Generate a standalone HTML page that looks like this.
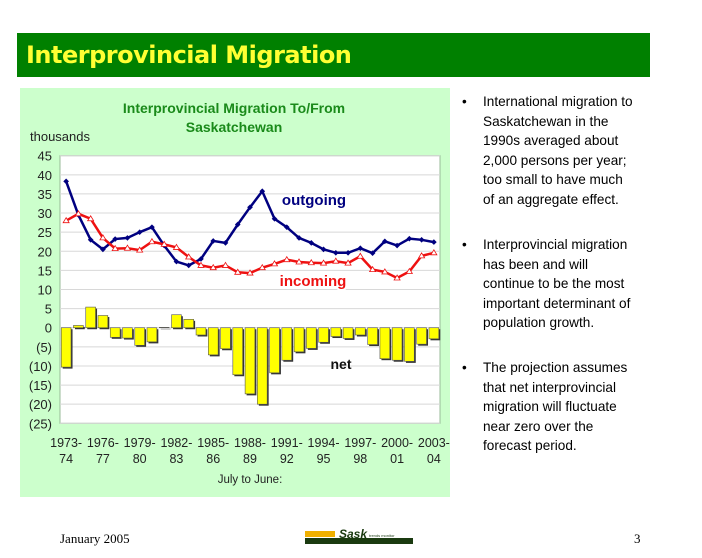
<!DOCTYPE html>
<html><head><meta charset="utf-8">
<style>
body{margin:0;width:702px;height:558px;background:#fff;position:relative;overflow:hidden;font-family:"Liberation Sans",sans-serif}
#hdr{position:absolute;left:17px;top:33px;width:633px;height:44px;background:#008000}
#hdr span{position:absolute;left:9px;top:8px;color:#ffff33;font:bold 24px "DejaVu Sans",sans-serif;letter-spacing:-0.5px}
#panel{position:absolute;left:20px;top:88px;width:430px;height:409px;background:#ccffcc}
.bul{position:absolute;left:462px;width:210px;font-size:13.6px;line-height:19.5px;color:#000}
.bul b{position:absolute;left:0;font-weight:normal}
.bul div{margin-left:21px;width:154px}
#foot{position:absolute;left:60px;top:531px;font:13px "Liberation Serif",serif}
#pg{position:absolute;left:634px;top:531px;font:13px "Liberation Serif",serif}
</style></head><body>
<div id="hdr"><span>Interprovincial Migration</span></div>
<div id="panel"></div>
<svg id="chart" width="702" height="558" style="position:absolute;left:0;top:0"></svg>
<div class="bul" style="top:92px"><b>•</b><div>International migration to Saskatchewan in the 1990s averaged about 2,000 persons per year; too small to have much of an aggregate effect.</div></div>
<div class="bul" style="top:235px"><b>•</b><div>Interprovincial migration has been and will continue to be the most important determinant of population growth.</div></div>
<div class="bul" style="top:358px"><b>•</b><div>The projection assumes that net interprovincial migration will fluctuate near zero over the forecast period.</div></div>
<div id="foot">January 2005</div>
<svg width="120" height="20" style="position:absolute;left:303px;top:527px">
<rect x="2" y="4" width="30" height="6" fill="#f0b000"/><rect x="2" y="11" width="108" height="6" fill="#1a3a10"/>
<text x="36" y="11" font-family="Liberation Sans" font-weight="bold" font-style="italic" font-size="12" fill="#1a3a10">Sask</text>
<text x="66" y="10" font-family="Liberation Sans" font-size="4" fill="#1a3a10">trends monitor</text></svg>
<div id="pg">3</div>
<script>
const years=["1973-","1976-","1979-","1982-","1985-","1988-","1991-","1994-","1997-","2000-","2003-"];
const years2=["74","77","80","83","86","89","92","95","98","01","04"];
const yTicks=[45,40,35,30,25,20,15,10,5,0,-5,-10,-15,-20,-25];
const outgoing=[38.3,29.5,23,20.5,23.2,23.5,25,26.3,21.5,17.3,16.3,18,22.7,22.2,27,31.5,35.7,28.5,26.3,23.5,22.2,20.5,19.6,19.6,20.8,19.5,22.6,21.5,23.3,23,22.4];
const incoming=[28,29.8,28.5,23.5,20.7,20.8,20.3,22.5,21.8,21,18.5,16.3,15.7,16.3,14.5,14.3,15.7,16.7,17.8,17.2,17,16.9,17.4,16.9,18.7,15.2,14.6,13,14.7,18.8,19.6];
const net=[-10.3,0.6,5.4,3.2,-2.5,-2.7,-4.6,-3.7,0.1,3.4,2.2,-1.9,-7.1,-5.5,-12.3,-17.3,-20,-11.8,-8.5,-6.3,-5.4,-3.8,-2.3,-2.8,-1.9,-4.4,-8.1,-8.5,-8.8,-4.3,-2.9];
const svg=document.getElementById('chart');const NS='http://www.w3.org/2000/svg';
const L=60,R=440,T=155.7,B=423.3,n=outgoing.length,cw=(R-L)/n;
const y=v=>T+(45-v)*(B-T)/70;const x=i=>L+cw*(i+0.5);
function mk(t,a,p){const e=document.createElementNS(NS,t);for(const k in a)e.setAttribute(k,a[k]);(p||svg).appendChild(e);return e;}
let e=mk('rect',{x:L,y:T,width:R-L,height:B-T,fill:'#fff',stroke:'#99bb99'});

yTicks.forEach(v=>{e=mk('line',{x1:L,x2:R,y1:y(v),y2:y(v),stroke:'#d8d8d8'});

e=mk('text',{x:52,y:y(v)+5,'text-anchor':'end','font-size':13,fill:'#222'});e.textContent=v<0?'('+(-v)+')':v;
});
net.forEach((v,i)=>{const y0=y(Math.max(v,0)),h=Math.abs(y(v)-y(0));
e=mk('rect',{x:x(i)-cw*0.4+1.5,y:y0+1.5,width:cw*0.8,height:h,fill:'#333'});

e=mk('rect',{x:x(i)-cw*0.4,y:y0,width:cw*0.8,height:h,fill:'#ffff00',stroke:'#555','stroke-width':0.6});
});
e=mk('polyline',{points:outgoing.map((v,i)=>x(i)+','+y(v)).join(' '),fill:'none',stroke:'#000080','stroke-width':2.5});

outgoing.forEach((v,i)=>{e=mk('rect',{x:x(i)-2,y:y(v)-2,width:4,height:4,fill:'#000080',transform:`rotate(45 ${x(i)} ${y(v)})`});
});
e=mk('polyline',{points:incoming.map((v,i)=>x(i)+','+y(v)).join(' '),fill:'none',stroke:'#ee1111','stroke-width':2.5});

incoming.forEach((v,i)=>{e=mk('polygon',{points:`${x(i)},${y(v)-3} ${x(i)-3},${y(v)+2} ${x(i)+3},${y(v)+2}`,fill:'#fff',stroke:'#ee1111','stroke-width':0.8});
});
years.forEach((t,k)=>{const xi=x(k*3);
e=mk('text',{x:xi,y:447,'text-anchor':'middle','font-size':12.5,fill:'#222'});e.textContent=t;

e=mk('text',{x:xi,y:463,'text-anchor':'middle','font-size':12.5,fill:'#222'});e.textContent=years2[k];
});
const lab=[['Interprovincial Migration To/From',234,113,14,'#1a8a1a','bold','chart-title'],['Saskatchewan',234,132,14,'#1a8a1a','bold','chart-title-2'],
['thousands',30,141,13,'#222','normal','y-axis-title'],['outgoing',314,205,15,'#000080','bold','outgoing-label'],['incoming',313,286,15,'#ee1111','bold','incoming-label'],
['net',341,369,14,'#111','bold','net-label'],['July to June:',250,483,11.5,'#222','normal','x-axis-title']];
lab.forEach(a=>{e=mk('text',{x:a[1],y:a[2],'font-size':a[3],fill:a[4],'font-weight':a[5],'text-anchor':(a[6]=='y-axis-title'?'start':'middle')});
if(a[6]=='outgoing-label'||a[6]=='incoming-label'){e.setAttribute('stroke','#fff');e.setAttribute('stroke-width','4');e.setAttribute('paint-order','stroke');}
e.textContent=a[0];});
</script>
</body></html>
